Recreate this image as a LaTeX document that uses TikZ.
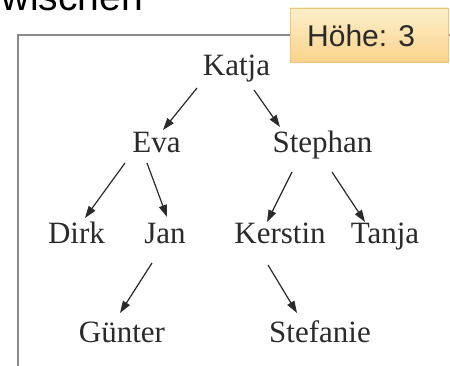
\documentclass[tikz,border=0pt]{standalone}
\usepackage{fontspec}
\setmainfont{Liberation Serif}
\newfontfamily\arialfont{Liberation Sans}
\usetikzlibrary{arrows.meta,calc}
\definecolor{framegray}{HTML}{8A8A8A}
\definecolor{boxtop}{HTML}{FDEFCB}
\definecolor{boxbot}{HTML}{FAD38B}
\definecolor{boxborder}{HTML}{EDC57A}
\definecolor{inkgray}{HTML}{2A2A2A}
\tikzset{
  person/.style={anchor=base,inner sep=0pt,text=inkgray,font=\fontsize{31}{31}\selectfont},
  edge/.style={draw=inkgray,line width=1.2pt,-{Triangle[length=12pt,width=8pt]}},
}
\begin{document}
\begin{tikzpicture}[x=1pt,y=-1pt]
\useasboundingbox (0,0) rectangle (450,366);
\fill[white] (0,0) rectangle (450,366);
% clipped title fragment
\begin{scope}
\clip (0,0) rectangle (450,366);
\node[anchor=base east,inner sep=0pt,text=black,font=\arialfont\fontsize{39}{39}\selectfont] (title) at (143,11) {zwischen};
% frame
\draw[framegray,line width=1.5pt] (18,370) -- (18,35) -- (455,35);
\end{scope}
% height label
\node[draw=boxborder,line width=0.8pt,top color=boxtop,bottom color=boxbot,
      minimum width=158pt,minimum height=54pt,inner sep=0pt] (hbox) at (369,35) {};
\node[anchor=base west,inner sep=0pt,text=inkgray,font=\arialfont\fontsize{30}{30}\selectfont] (htext) at (307,47) {Höhe: 3};
% tree
\node[person] (katja) at (236.5,76) {Katja};
\node[person] (eva) at (156.5,153) {Eva};
\node[person] (stephan) at (322.5,153) {Stephan};
\node[person] (dirk) at (76.5,244) {Dirk};
\node[person] (jan) at (165,244) {Jan};
\node[person] (kerstin) at (280,244) {Kerstin};
\node[person] (tanja) at (385,244) {Tanja};
\node[person] (guenter) at (122,342) {Günter};
\node[person] (stefanie) at (320,342) {Stefanie};
\path[edge] ($(katja.base)+(-39.5,12)$) -- ($(eva.base)+(6.5,-23)$);
\path[edge] ($(katja.base)+(17.5,14)$) -- ($(stephan.base)+(-42.5,-26)$);
\path[edge] ($(eva.base)+(-31.5,10)$) -- ($(dirk.base)+(8.5,-26)$);
\path[edge] ($(eva.base)+(-9.5,10)$) -- ($(jan.base)+(2,-27)$);
\path[edge] ($(stephan.base)+(-30.5,19)$) -- ($(kerstin.base)+(-13,-22)$);
\path[edge] ($(stephan.base)+(9.5,19)$) -- ($(tanja.base)+(-20,-22)$);
\path[edge] ($(jan.base)+(-13,19)$) -- ($(guenter.base)+(-2,-29)$);
\path[edge] ($(kerstin.base)+(-12,21)$) -- ($(stefanie.base)+(-23,-29)$);
\end{tikzpicture}
\end{document}
